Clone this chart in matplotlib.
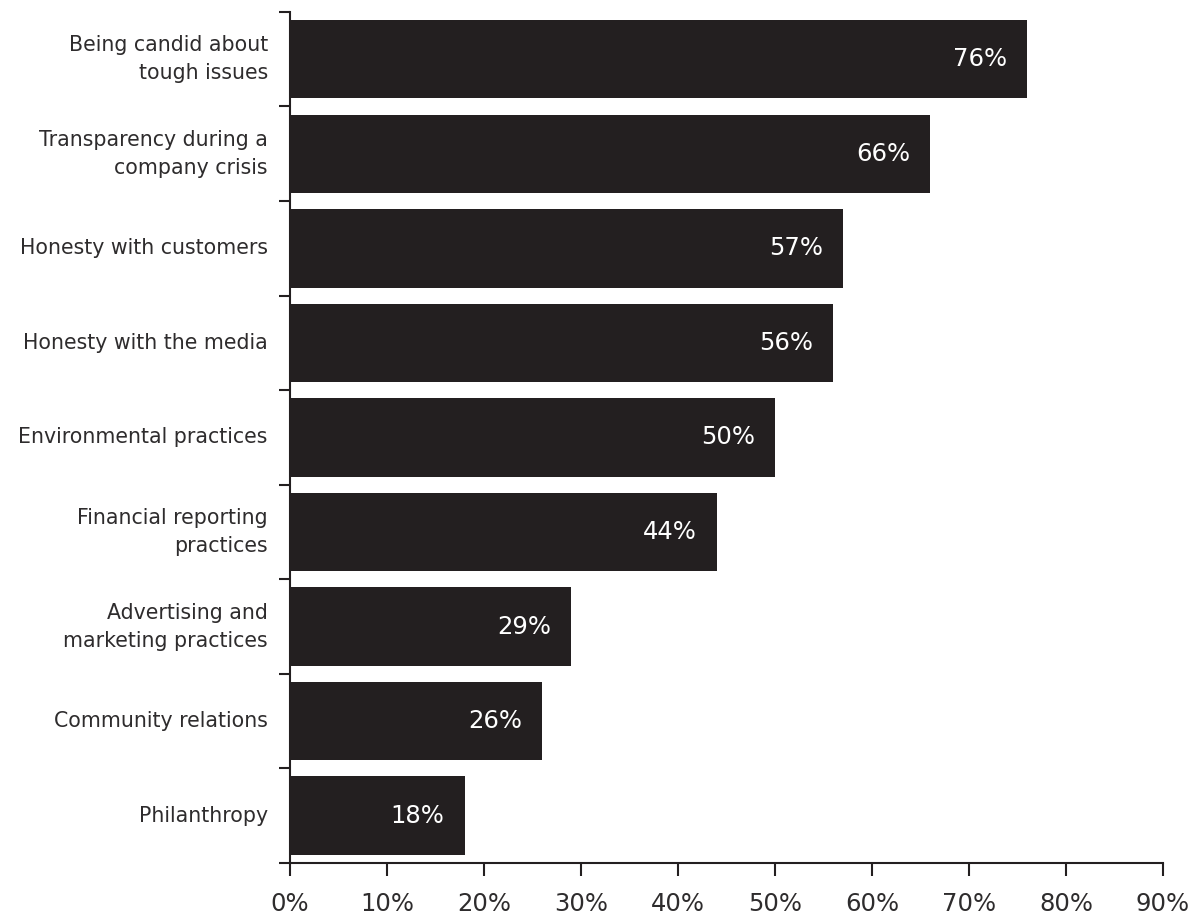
import matplotlib.pyplot as plt
from matplotlib.ticker import FixedLocator, FuncFormatter

categories = [
    "Being candid about\ntough issues",
    "Transparency during a\ncompany crisis",
    "Honesty with customers",
    "Honesty with the media",
    "Environmental practices",
    "Financial reporting\npractices",
    "Advertising and\nmarketing practices",
    "Community relations",
    "Philanthropy",
]
values = [76, 66, 57, 56, 50, 44, 29, 26, 18]
x_ticks = [0, 10, 20, 30, 40, 50, 60, 70, 80, 90]

INK = "#231f20"
TEXT = "#2e2c2d"


def main():
    plt.rcParams["font.family"] = ["DejaVu Sans"]
    fig = plt.figure(figsize=(12.02, 9.18), dpi=100)
    ax = fig.add_axes([0.2413, 0.0599, 0.7263, 0.9271])

    pos = list(range(len(categories)))
    ax.barh(pos, values, height=0.83, color=INK)
    ax.set_ylim(len(categories) - 0.5, -0.5)
    ax.set_xlim(0, 90)

    for y, v in zip(pos, values):
        ax.annotate(f"{v}%", (v, y), xytext=(-20, 0), textcoords="offset pixels",
                    ha="right", va="center", color="white", fontsize=17.5)

    # category names sit between the boundary ticks
    ax.yaxis.set_major_locator(FixedLocator([p - 0.5 for p in pos] + [len(pos) - 0.5]))
    ax.yaxis.set_major_formatter(FuncFormatter(lambda v, i: ""))
    ax.yaxis.set_minor_locator(FixedLocator(pos))
    ax.set_yticklabels(categories, minor=True, fontsize=14.8, color=TEXT, ha="right",
                       va="center", multialignment="right", linespacing=1.5)
    ax.tick_params(axis="y", which="major", length=8, width=1.5, color=INK, direction="out")
    ax.tick_params(axis="y", which="minor", length=0, pad=16)

    ax.xaxis.set_major_locator(FixedLocator(x_ticks))
    ax.xaxis.set_major_formatter(FuncFormatter(lambda v, i: f"{v:.0f}%"))
    ax.tick_params(axis="x", length=9, width=1.5, color=INK, labelsize=17.5,
                   labelcolor=TEXT, pad=12)

    for side in ("top", "right"):
        ax.spines[side].set_visible(False)
    for side in ("left", "bottom"):
        ax.spines[side].set_linewidth(1.5)
        ax.spines[side].set_color(INK)

    fig.savefig("out.png", dpi=100, facecolor="white")


if __name__ == "__main__":
    main()
